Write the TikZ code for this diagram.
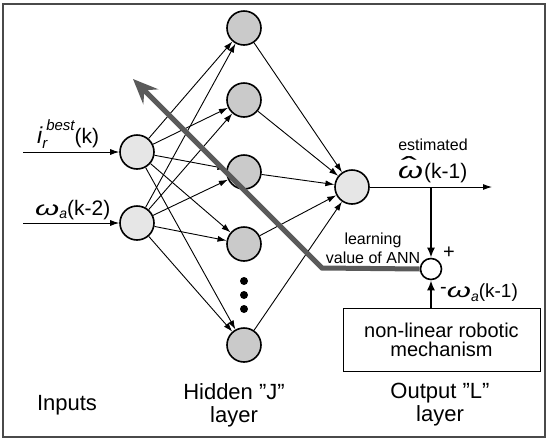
\documentclass[tikz,border=0pt]{standalone}
\usepackage{fontspec}
\setmainfont{Liberation Sans}
\usetikzlibrary{arrows.meta}
\definecolor{inputfill}{HTML}{E6E6E6}
\definecolor{hidfill}{HTML}{CACACA}
\definecolor{learn}{HTML}{5A5A5A}
\definecolor{framecol}{HTML}{4A4A4A}
\newcommand{\fs}[1]{\fontsize{#1}{#1}\selectfont}
\newcommand{\om}{\scalebox{1.55}[1]{\itshape ω}}
\newcommand{\omhat}{\rlap{\kern3pt\raisebox{3pt}{\scalebox{2.4}[1.3]{ˆ}}}\scalebox{1.6}[1.15]{\itshape ω}}
\begin{document}
\begin{tikzpicture}[x=1pt,y=-1pt,
  neuron/.style={circle,draw,line width=1.6pt,minimum size=34pt,inner sep=0pt},
  innode/.style={neuron,fill=inputfill},
  hidnode/.style={neuron,fill=hidfill},
  conn/.style={line width=0.9pt,-{Latex[length=9pt,width=6pt]}},
  dotnode/.style={circle,fill=black,minimum size=8pt,inner sep=0pt},
  lbl/.style={inner sep=0pt,font=\fs{22}},
  small/.style={inner sep=0pt,font=\fs{16}},
  learnline/.style={draw=learn,line width=5pt,line join=miter}]
\useasboundingbox (0,0) rectangle (550,440);
\draw[framecol,line width=1.5pt] (3,4) rectangle (545,437);

% nodes
\node[innode] (in1) at (137,152) {};
\node[innode] (in2) at (137,223) {};
\node[hidnode] (h1) at (244,28) {};
\node[hidnode] (h2) at (244,100) {};
\node[hidnode] (h3) at (244,172) {};
\node[hidnode] (h4) at (244,244) {};
\node[hidnode] (h5) at (244,345) {};
\node[dotnode] (d1) at (244,281) {};
\node[dotnode] (d2) at (244,295) {};
\node[dotnode] (d3) at (244,309) {};
\node[innode] (out) at (352,187) {};
\node[circle,draw,line width=1.6pt,fill=white,minimum size=21pt,inner sep=0pt] (sum) at (431,269) {};
\node[draw,line width=1pt,minimum width=197pt,minimum height=63pt,inner sep=0pt,align=center,font=\fs{20},text depth=0pt] (box) at (441.5,339.5) {non-linear robotic\\[-1pt]mechanism};

% connections
\coordinate (s1) at (23,152);
\coordinate (s2) at (23,223);
\draw[conn] (s1) -- (in1);
\draw[conn] (s2) -- (in2);
\foreach \i in {1,2}{\foreach \j in {1,...,5}{\draw[conn] (in\i) -- (h\j);}}
\foreach \j in {1,...,5}{\draw[conn] (h\j) -- (out);}
\coordinate (oend) at (492,187);
\coordinate (br) at (431,187);
\draw[conn] (out) -- (oend);
\draw[line width=2pt,-{Latex[length=10pt,width=8pt]}] (br) -- (sum);
\draw[line width=2pt,-{Latex[length=10pt,width=8pt]}] (box.north -| sum) -- (sum);

% learning path
\coordinate (lk) at (322,268);
\coordinate (ltip) at (133,79);
\draw[learnline,-{Stealth[length=25pt,width=21pt,inset=9pt]}] (sum.west) -- (lk) -- (ltip);

% labels
\node[anchor=base west,inner sep=0pt,font=\fs{23}] (lab1) at (37,143) {\itshape i\rlap{\raisebox{-5pt}{\fs{15}r}}\kern4pt\raisebox{13pt}{\fs{15}best}\upshape\fs{21}(k)};
\node[anchor=base west,inner sep=0pt,font=\fs{20}] (lab2) at (35,215) {\om\raisebox{-3pt}{\fs{14}\itshape a}\upshape\fs{21}(k-2)};
\node[small] (est) at (433,145) {estimated};
\node[anchor=base west,inner sep=0pt,font=\fs{20}] (lab3) at (398,178) {\omhat\kern1pt\fs{21}(k-1)};
\node[small] (learn1) at (373,240) {learning};
\node[small] (learn2) at (373,258) {value of ANN};
\node[inner sep=0pt,font=\fs{20}] (plus) at (449,253) {+};
\node[anchor=base west,inner sep=0pt,font=\fs{20}] (lab4) at (440,297) {\raisebox{4pt}{-}\om\raisebox{-4pt}{\fs{14}\itshape a}\upshape\fs{19}(k-1)};
\node[lbl] (inp) at (67,405) {Inputs};
\node[lbl,align=center] (hid) at (234,405) {Hidden ”J”\\[1pt]layer};
\node[lbl,align=center] (outl) at (440,405) {Output ”L”\\[1pt]layer};
\end{tikzpicture}
\end{document}
